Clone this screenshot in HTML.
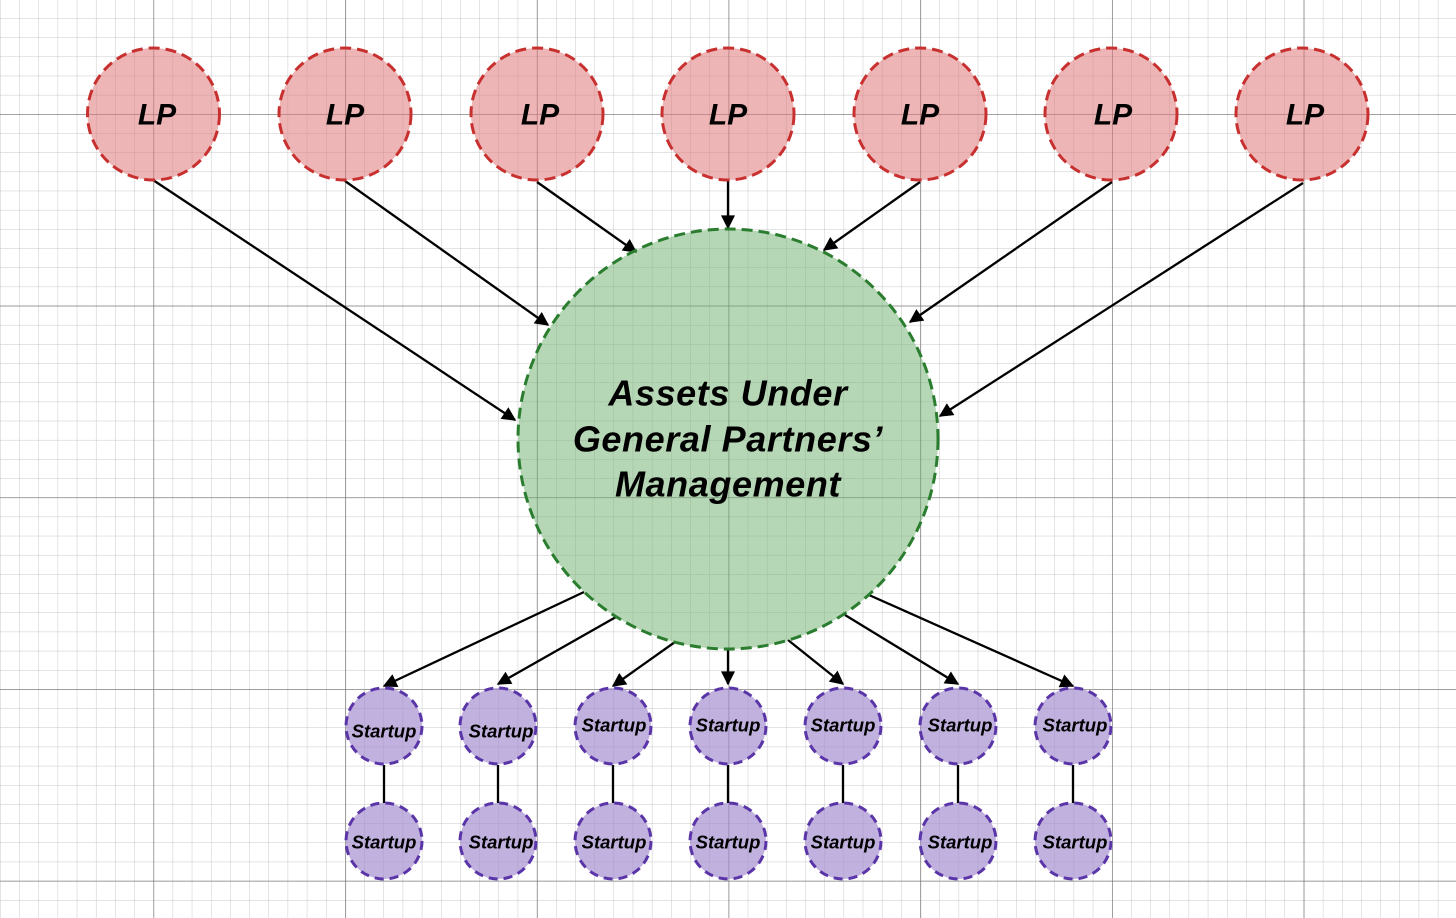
<!DOCTYPE html>
<html><head><style>
html,body{margin:0;padding:0;background:#fff;}
svg{display:block;}
text{font-family:"Liberation Sans",sans-serif;font-weight:bold;font-style:italic;fill:#000;text-anchor:middle;dominant-baseline:central;}
</style></head><body>
<svg width="1456" height="918" viewBox="0 0 1456 918" xmlns="http://www.w3.org/2000/svg">
<defs>
<pattern id="minor" x="0.1" y="18.2" width="19.17" height="19.17" patternUnits="userSpaceOnUse">
<path d="M0 0V19.17M0 0H19.17" stroke="#c8c8c8" stroke-width="1" fill="none"/>
</pattern>
<pattern id="major" x="153.5" y="114" width="191.7" height="191.7" patternUnits="userSpaceOnUse">
<path d="M0 0V191.7M0 0H191.7" stroke="#6e6e6e" stroke-width="1.3" fill="none"/>
</pattern>
<marker id="ah2" viewBox="0 0 10 10" refX="9" refY="5" markerWidth="16" markerHeight="14" orient="auto" markerUnits="userSpaceOnUse"><path d="M0 0L10 5L0 10z" fill="#000"/></marker>
</defs>
<rect width="1456" height="918" fill="url(#minor)"/>
<rect width="1456" height="918" fill="url(#major)"/>

<g stroke="#000" stroke-width="2.3" marker-end="url(#ah2)">
<line x1="153" y1="180" x2="515" y2="420"/>
<line x1="345" y1="181" x2="548" y2="325"/>
<line x1="537" y1="182" x2="636" y2="252"/>
<line x1="728" y1="181" x2="728" y2="228"/>
<line x1="920" y1="182" x2="824" y2="250"/>
<line x1="1112" y1="182" x2="910" y2="322"/>
<line x1="1303" y1="183" x2="940" y2="416"/>
<line x1="584" y1="592" x2="384" y2="686"/>
<line x1="616" y1="617" x2="498" y2="684"/>
<line x1="675" y1="642" x2="613" y2="686"/>
<line x1="728" y1="648" x2="728" y2="684"/>
<line x1="788" y1="640" x2="843" y2="684"/>
<line x1="845" y1="615" x2="958" y2="684"/>
<line x1="869" y1="595" x2="1073" y2="686"/>
</g>

<g stroke="#000" stroke-width="2.3">
<line x1="384" y1="765" x2="384" y2="803"/>
<line x1="498" y1="765" x2="498" y2="803"/>
<line x1="613" y1="765" x2="613" y2="803"/>
<line x1="728" y1="765" x2="728" y2="803"/>
<line x1="843" y1="765" x2="843" y2="803"/>
<line x1="958" y1="765" x2="958" y2="803"/>
<line x1="1073" y1="765" x2="1073" y2="803"/>
</g>

<g fill="rgba(222,120,120,0.55)" stroke="#c8302f" stroke-width="3" stroke-dasharray="11 6">
<circle cx="153.5" cy="114" r="66"/>
<circle cx="345" cy="114" r="66"/>
<circle cx="537" cy="114" r="66"/>
<circle cx="728" cy="114" r="66"/>
<circle cx="920" cy="114" r="66"/>
<circle cx="1111" cy="114" r="66"/>
<circle cx="1302" cy="114" r="66"/>
</g>
<g font-size="30">
<text x="157" y="115">LP</text>
<text x="345" y="115">LP</text>
<text x="540" y="115">LP</text>
<text x="728" y="115">LP</text>
<text x="920" y="115">LP</text>
<text x="1113" y="115">LP</text>
<text x="1305" y="115">LP</text>
</g>

<circle cx="728" cy="439" r="210" fill="rgba(110,175,110,0.5)" stroke="#2a7d2e" stroke-width="3" stroke-dasharray="11 6"/>
<g font-size="36" letter-spacing="0.6">
<text x="728" y="393">Assets Under</text>
<text x="728" y="439">General Partners’</text>
<text x="728" y="484">Management</text>
</g>

<g fill="rgba(160,135,205,0.65)" stroke="#5a35a8" stroke-width="3" stroke-dasharray="9 6">
<circle cx="384" cy="726" r="38"/><circle cx="498" cy="726" r="38"/><circle cx="613" cy="726" r="38"/><circle cx="728" cy="726" r="38"/><circle cx="843" cy="726" r="38"/><circle cx="958" cy="726" r="38"/><circle cx="1073" cy="726" r="38"/>
<circle cx="384" cy="841" r="38"/><circle cx="498" cy="841" r="38"/><circle cx="613" cy="841" r="38"/><circle cx="728" cy="841" r="38"/><circle cx="843" cy="841" r="38"/><circle cx="958" cy="841" r="38"/><circle cx="1073" cy="841" r="38"/>
</g>
<g font-size="18.5">
<text x="384" y="731">Startup</text><text x="501" y="731">Startup</text><text x="614" y="725">Startup</text><text x="728" y="725">Startup</text><text x="843" y="725">Startup</text><text x="960" y="725">Startup</text><text x="1075" y="725">Startup</text>
<text x="384" y="842">Startup</text><text x="501" y="842">Startup</text><text x="614" y="842">Startup</text><text x="728" y="842">Startup</text><text x="843" y="842">Startup</text><text x="960" y="842">Startup</text><text x="1075" y="842">Startup</text>
</g>
</svg>
</body></html>
